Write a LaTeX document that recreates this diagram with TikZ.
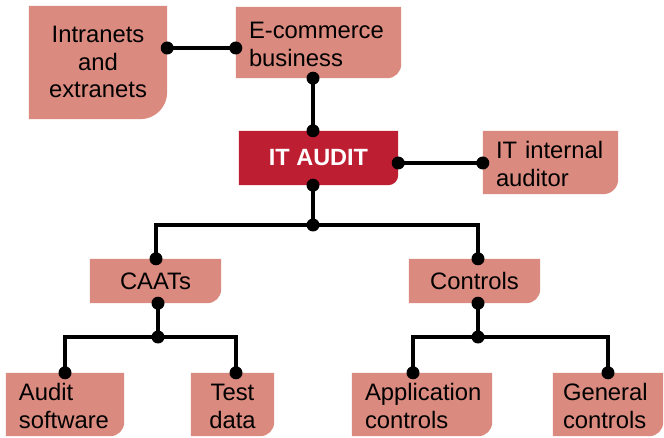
\documentclass[tikz,border=0pt]{standalone}
\usepackage{fontspec}
\setmainfont{Liberation Sans}
\usetikzlibrary{backgrounds}
\definecolor{boxfill}{RGB}{218,138,126}
\definecolor{auditred}{RGB}{190,30,50}

% fill a node's box, rounding only its lower right corner
\newcommand\cornerfill[3]{%
  \fill[#2] (#1.north west) -- (#1.north east)
    -- ([yshift=#3]#1.south east) arc[start angle=0,end angle=-90,radius=#3]
    -- (#1.south west) -- cycle;}
% round joint on a connector
\newcommand\joint[1]{\fill (#1) circle[radius=6.5pt];}

\begin{document}
\begin{tikzpicture}[x=1pt,y=-1pt,
  lbl/.style={inner sep=0pt, font=\fontsize{23.8}{27.5}\selectfont, text=black},
  ctrbox/.style={lbl, align=center},
  leftbox/.style={lbl, align=left, inner xsep=13pt},
  twolines/.style={text height=20pt, text depth=27.5pt},
  conn/.style={line width=3.5pt, line join=miter}]
\useasboundingbox (0,0) rectangle (664,438);

% boxes (centred multi-line text is measured from its last line)
\node[ctrbox, minimum width=138pt, minimum height=113pt, text height=72pt, text depth=1pt] (intra) at (98,62.5) {Intranets\\and\\extranets};
\node[leftbox, twolines, text width=139pt, minimum height=71pt] (ecom) at (318.5,42.5) {E-commerce\\business};
\node[lbl, align=center, minimum width=159pt, minimum height=54pt, text=white,
      font=\fontsize{23.5}{27.5}\selectfont\bfseries] (audit) at (318.5,158) {IT AUDIT};
\node[leftbox, twolines, text width=109pt, minimum height=63pt] (itint) at (550.5,162.5) {IT internal\\auditor};
\node[ctrbox, minimum width=131pt, minimum height=44pt] (caats) at (155.5,281) {CAATs};
\node[ctrbox, minimum width=131pt, minimum height=44pt] (controls) at (474.5,281) {Controls};
\node[leftbox, twolines, text width=92pt, minimum height=63pt] (audsw) at (65,404.5) {Audit\\software};
\node[ctrbox, text height=47.5pt, text depth=0.5pt, minimum width=83pt, minimum height=63pt] (test) at (232.5,404.5) {Test\\data};
\node[leftbox, twolines, text width=114pt, minimum height=63pt] (appctl) at (422,404.5) {Application\\controls};
\node[leftbox, twolines, inner xsep=10pt, text width=90pt, minimum height=63pt] (genctl) at (608,404.5) {General\\controls};

\begin{scope}[on background layer]
  \cornerfill{intra}{boxfill}{27pt}
  \cornerfill{ecom}{boxfill}{14pt}
  \cornerfill{audit}{auditred}{10pt}
  \cornerfill{itint}{boxfill}{15pt}
  \cornerfill{caats}{boxfill}{14pt}
  \cornerfill{controls}{boxfill}{14pt}
  \cornerfill{audsw}{boxfill}{14pt}
  \cornerfill{test}{boxfill}{14pt}
  \cornerfill{appctl}{boxfill}{14pt}
  \cornerfill{genctl}{boxfill}{14pt}
\end{scope}

% connector rows and columns
\coordinate (row1) at (0,48);
\coordinate (row2) at (0,163);
\coordinate (trunk) at (313,0);
\coordinate (j1) at (313,225);
\coordinate (j2) at (158,337);
\coordinate (j3) at (478,337);
\coordinate (xcaats) at (156,0);
\coordinate (xtest) at (236,0);
\coordinate (xapp) at (413,0);

% connectors
\draw[conn] (intra.east |- row1) -- (ecom.west |- row1);
\joint{intra.east |- row1}\joint{ecom.west |- row1}

\draw[conn] (ecom.south -| trunk) -- (audit.north -| trunk);
\joint{ecom.south -| trunk}\joint{audit.north -| trunk}

\draw[conn] (audit.east |- row2) -- (itint.west |- row2);
\joint{audit.east |- row2}\joint{itint.west |- row2}

\draw[conn] (audit.south -| j1) -- (j1);
\draw[conn] (caats.north -| xcaats) |- (j1) -| (controls.north -| j3);
\joint{audit.south -| j1}\joint{j1}\joint{caats.north -| xcaats}\joint{controls.north -| j3}

\draw[conn] (caats.south -| j2) -- (j2);
\draw[conn] (audsw.north) |- (j2) -| (test.north -| xtest);
\joint{caats.south -| j2}\joint{j2}\joint{audsw.north}\joint{test.north -| xtest}

\draw[conn] (controls.south -| j3) -- (j3);
\draw[conn] (appctl.north -| xapp) |- (j3) -| (genctl.north);
\joint{controls.south -| j3}\joint{j3}\joint{appctl.north -| xapp}\joint{genctl.north}
\end{tikzpicture}
\end{document}
